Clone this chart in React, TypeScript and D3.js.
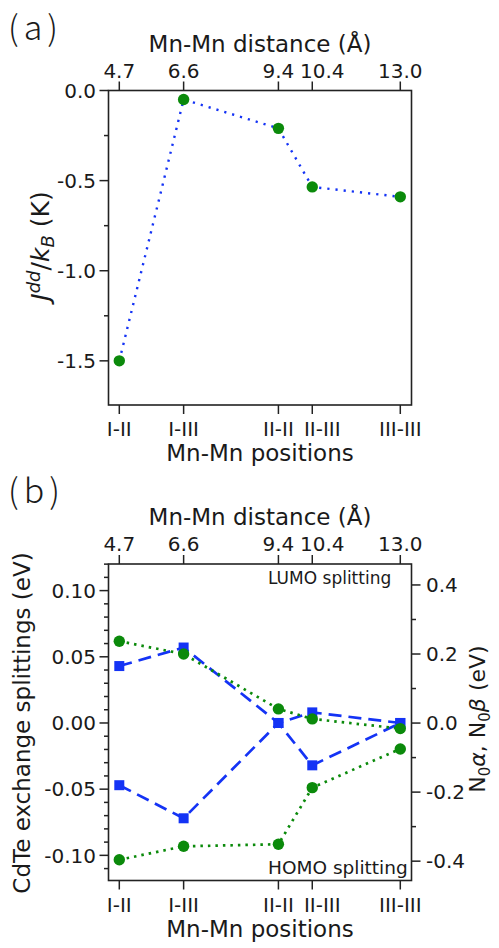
import React from 'react';
import * as d3 from 'd3';

// shared x categories (Mn-Mn positions) and their distances in Å
const categories = ['I-II', 'I-III', 'II-II', 'II-III', 'III-III'];
const distances = [4.7, 6.6, 9.4, 10.4, 13.0];
const distanceLabels = ['4.7', '6.6', '9.4', '10.4', '13.0'];

// panel (a): J^dd / k_B in K
const jdd = [-1.5, -0.05, -0.21, -0.535, -0.59];
const jTicks = [0, -0.5, -1.0, -1.5];
const jTickLabels = ['0.0', '-0.5', '-1.0', '-1.5'];

// panel (b): CdTe exchange splittings (left axis, eV)
const lumoCdTe = [0.043, 0.057, 0.0, 0.008, 0.0];
const homoCdTe = [-0.047, -0.072, 0.0, -0.032, 0.0];
// panel (b): N0 alpha, N0 beta (right axis, eV)
const lumoN0 = [0.237, 0.2, 0.041, 0.012, -0.016];
const homoN0 = [-0.396, -0.357, -0.351, -0.187, -0.075];

const leftTicks = [0.1, 0.05, 0, -0.05, -0.1];
const leftTickLabels = ['0.10', '0.05', '0.00', '-0.05', '-0.10'];
const rightTicks = [0.4, 0.2, 0, -0.2, -0.4];
const rightTickLabels = ['0.4', '0.2', '0.0', '-0.2', '-0.4'];

const FONT = "'DejaVu Sans', Verdana, sans-serif";
const AXIS = '#222';
const BLUE = '#1433f5';
const GREEN = '#0b8a0b';

const LEFT = 108.5;
const RIGHT = 411.5;
const A_TOP = 90.5;
const A_BOTTOM = 405;
const B_TOP = 564;
const B_BOTTOM = 880.5;
const MAJOR = 9;
const MINOR = 4.5;
// the 10.4 / II-III labels sit a little right of their tick so they don't collide
const labelNudge = (i: number) => (i === 3 ? 10 : 0);

const x = d3.scaleLinear().domain([4.381, 13.331]).range([LEFT, RIGHT]);
const ya = d3.scaleLinear().domain([-1.745, 0]).range([A_BOTTOM, A_TOP]);
const yb = d3.scaleLinear().domain([-0.119, 0.1201]).range([B_BOTTOM, B_TOP]);
const yr = d3.scaleLinear().domain([-0.456, 0.4607]).range([B_BOTTOM, B_TOP]);

const lineOn = (scale: d3.ScaleLinear<number, number>) =>
  d3
    .line<number>()
    .x((_, i) => x(distances[i]))
    .y((d) => scale(d));

// top distance axis + bottom positions axis, shared by both panels
const XAxes = ({ top, bottom }: { top: number; bottom: number }) => (
  <g>
    {distances.map((d, i) => (
      <g key={i}>
        <line x1={x(d)} x2={x(d)} y1={top} y2={top - MAJOR} stroke={AXIS} strokeWidth={1.5} />
        <line x1={x(d)} x2={x(d)} y1={bottom} y2={bottom + MAJOR} stroke={AXIS} strokeWidth={1.5} />
        <text x={x(d) + labelNudge(i)} y={top - 13} textAnchor='middle' fontSize={20}>
          {distanceLabels[i]}
        </text>
        <text x={x(d) + labelNudge(i)} y={bottom + 31} textAnchor='middle' fontSize={20}>
          {categories[i]}
        </text>
      </g>
    ))}
    <text x={(LEFT + RIGHT) / 2} y={top - 39} textAnchor='middle' fontSize={23}>
      Mn-Mn distance (Å)
    </text>
    <text x={(LEFT + RIGHT) / 2} y={bottom + 56} textAnchor='middle' fontSize={23}>
      Mn-Mn positions
    </text>
  </g>
);

const PanelLetter = ({ y, label }: { y: number; label: string }) => (
  <text x={8} y={y} fontSize={34} fontFamily="'Noto Sans CJK KR', sans-serif" fontWeight={300} letterSpacing={5}>
    {label}
  </text>
);

const PanelA = () => {
  const minor = d3.range(-7, 1).map((k) => k * 0.25).filter((v) => v >= -1.745);
  return (
    <g>
      <PanelLetter y={40} label='(a)' />
      {minor.map((v) => (
        <line key={v} x1={LEFT} x2={LEFT - (Math.abs(v * 2 - Math.round(v * 2)) < 1e-6 ? MAJOR : MINOR)} y1={ya(v)} y2={ya(v)} stroke={AXIS} strokeWidth={1.5} />
      ))}
      {jTicks.map((v, i) => (
        <text key={i} x={96} y={ya(v)} dy='0.36em' textAnchor='end' fontSize={20}>
          {jTickLabels[i]}
        </text>
      ))}
      <text transform={`translate(49,246) rotate(-90)`} textAnchor='middle' fontSize={25}>
        <tspan fontStyle='italic'>J</tspan>
        <tspan fontStyle='italic' fontSize={18} dy={-9}>dd</tspan>
        <tspan dy={9}>/</tspan>
        <tspan fontStyle='italic'>k</tspan>
        <tspan fontStyle='italic' fontSize={18} dy={5}>B</tspan>
        <tspan dy={-5}> (K)</tspan>
      </text>
      <XAxes top={A_TOP} bottom={A_BOTTOM} />
      <path d={lineOn(ya)(jdd) ?? ''} fill='none' stroke={BLUE} strokeWidth={2.4} strokeDasharray='2.2 6' />
      {jdd.map((v, i) => (
        <circle key={i} cx={x(distances[i])} cy={ya(v)} r={5.7} fill={GREEN} />
      ))}
      <rect x={LEFT} y={A_TOP} width={RIGHT - LEFT} height={A_BOTTOM - A_TOP} fill='none' stroke={AXIS} strokeWidth={1.6} />
    </g>
  );
};

const PanelB = () => {
  const leftMinor = d3.range(-11, 13).map((k) => k / 100);
  const rightMinor = [-0.3, -0.1, 0.1, 0.3];
  const blueLine = lineOn(yb);
  const greenLine = lineOn(yr);
  return (
    <g>
      <PanelLetter y={503} label='(b)' />
      {leftMinor.map((v) => (
        <line key={v} x1={LEFT} x2={LEFT - (Math.round(v * 100) % 5 === 0 ? MAJOR : MINOR)} y1={yb(v)} y2={yb(v)} stroke={AXIS} strokeWidth={1.5} />
      ))}
      {leftTicks.map((v, i) => (
        <text key={i} x={96} y={yb(v)} dy='0.36em' textAnchor='end' fontSize={20}>
          {leftTickLabels[i]}
        </text>
      ))}
      {rightTicks.map((v, i) => (
        <g key={i}>
          <line x1={RIGHT} x2={RIGHT + MAJOR} y1={yr(v)} y2={yr(v)} stroke={AXIS} strokeWidth={1.5} />
          <text x={426} y={yr(v)} dy='0.36em' fontSize={20}>
            {rightTickLabels[i]}
          </text>
        </g>
      ))}
      {rightMinor.map((v) => (
        <line key={v} x1={RIGHT} x2={RIGHT + MINOR} y1={yr(v)} y2={yr(v)} stroke={AXIS} strokeWidth={1.5} />
      ))}
      <text transform={`translate(30,723) rotate(-90)`} textAnchor='middle' fontSize={23}>
        CdTe exchange splittings (eV)
      </text>
      <text transform={`translate(485,719) rotate(-90)`} textAnchor='middle' fontSize={22}>
        <tspan>N</tspan>
        <tspan fontSize={15} dy={5}>0</tspan>
        <tspan fontStyle='italic' dy={-5}>α</tspan>
        <tspan>, N</tspan>
        <tspan fontSize={15} dy={5}>0</tspan>
        <tspan fontStyle='italic' dy={-5}>β</tspan>
        <tspan> (eV)</tspan>
      </text>
      <XAxes top={B_TOP} bottom={B_BOTTOM} />
      <text x={268} y={584} fontSize={17}>LUMO splitting</text>
      <text x={268} y={874} fontSize={18.5}>HOMO splitting</text>

      {[lumoCdTe, homoCdTe].map((s, k) => (
        <path key={k} d={blueLine(s) ?? ''} fill='none' stroke={BLUE} strokeWidth={2.7} strokeDasharray='13 7' />
      ))}
      {[lumoN0, homoN0].map((s, k) => (
        <path key={k} d={greenLine(s) ?? ''} fill='none' stroke={GREEN} strokeWidth={2.7} strokeDasharray='2.5 5' />
      ))}
      {[lumoCdTe, homoCdTe].map((s, k) =>
        s.map((v, i) => (
          <rect key={`${k}-${i}`} x={x(distances[i]) - 5} y={yb(v) - 5} width={10} height={10} fill={BLUE} />
        ))
      )}
      {[lumoN0, homoN0].map((s, k) =>
        s.map((v, i) => (
          <circle key={`${k}-${i}`} cx={x(distances[i])} cy={yr(v)} r={5.7} fill={GREEN} />
        ))
      )}
      <rect x={LEFT} y={B_TOP} width={RIGHT - LEFT} height={B_BOTTOM - B_TOP} fill='none' stroke={AXIS} strokeWidth={1.6} />
    </g>
  );
};

export default function App() {
  return (
    <svg
      width={499}
      height={948}
      style={{ position: 'absolute', left: 0, top: 0, background: '#fff' }}
      fontFamily={FONT}
      fill='#1a1a1a'>
      <rect width={499} height={948} fill='#fff' />
      <PanelA />
      <PanelB />
    </svg>
  );
}
